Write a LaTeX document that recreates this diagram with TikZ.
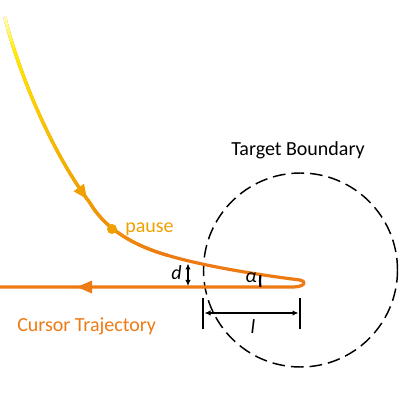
\documentclass[tikz,border=0pt]{standalone}
\usepackage{fontspec}
\setmainfont{Carlito}
\usetikzlibrary{decorations.markings,arrows.meta,calc}
\definecolor{corange}{HTML}{EE7A14}
\definecolor{camber}{HTML}{F0A000}
\definecolor{cyellow}{HTML}{FFEE00}
\definecolor{cpale}{HTML}{FFFFB0}
\tikzset{
  traj/.style={line width=2.4pt, line cap=round, line join=round},
  lbl/.style={inner sep=0pt, font=\fontsize{15}{18}\selectfont},
  bar/.style={line width=2.2pt},
  dimline/.style={line width=0.8pt, {Latex[length=4.5pt,width=4pt]}-{Latex[length=4.5pt,width=4pt]}},
  boundary/.style={line width=1.1pt, dash pattern=on 9.5pt off 4.5pt}
}
\begin{document}
\begin{tikzpicture}[x=0.75pt,y=-0.75pt]
\useasboundingbox (0,0) rectangle (414,413);

% target boundary
\coordinate (c) at (300.5,270);
\draw[boundary] (c) circle[radius=97];
\node[lbl, anchor=base] (tb) at (298,156) {Target Boundary};

% sample points along the upper trajectory
\path[decoration={markings, mark=between positions 0 and 1 step 0.01 with {\coordinate (q\pgfkeysvalueof{/pgf/decoration/mark info/sequence number});}}, decorate]
  (5,18) .. controls (18,70) and (50,150) .. (90,203) .. controls (100,220) and (120,240) .. (160,253) .. controls (200,266) and (260,275) .. (300,280);

% base orange curve
\draw[traj, corange] (5,18) .. controls (18,70) and (50,150) .. (90,203) .. controls (100,220) and (120,240) .. (160,253) .. controls (200,266) and (260,275) .. (300,280);

% colour gradient overlay
\foreach \i [evaluate=\i as \p using {int(100-100*(\i-1)/8)}, evaluate=\i as \j using {int(\i+1)}] in {1,...,8}
  \draw[traj, cpale!\p!cyellow] (q\i) -- (q\j);
\foreach \i [evaluate=\i as \p using {int(100*(45-\i)/37)}, evaluate=\i as \j using {int(\i+1)}] in {9,...,45}
  \draw[traj, cyellow!\p!camber] (q\i) -- (q\j);
\foreach \i [evaluate=\i as \p using {int(100*(70-\i)/25)}, evaluate=\i as \j using {int(\i+1)}] in {46,...,69}
  \draw[traj, camber!\p!corange] (q\i) -- (q\j);

% arrow on the upper trajectory
\path[decoration={markings, mark=at position 0.965 with {\fill[camber] (2,0) -- (-12,-6.5) -- (-12,6.5) -- cycle;}}, decorate]
  (5,18) .. controls (18,70) and (50,150) .. (90,203);

% tip loop and return line
\coordinate (tip) at (302,281);
\coordinate (end) at (0,287);
\draw[traj, corange] (300,280) .. controls (306,280.8) and (306.5,286.3) .. (294,287) -- (end);
\fill[corange] (77,287) -- (92,280.5) -- (92,293.5) -- cycle;

% pause
\fill[camber] (112,229) circle[radius=5];
\node[lbl, anchor=base west, text=camber] (pause) at (125,233) {pause};

% d
\draw[dimline] (188,263.5) -- (188,286);
\node[lbl, anchor=base] (d) at (176.5,280) {\itshape d};

% alpha
\draw[line width=1.6pt] ($(tip)+(172:42)$) arc[start angle=172, end angle=188, radius=42];
\node[lbl, anchor=base] (alpha) at (251,282) {\itshape α};

% l
\coordinate (l1) at (203,313);
\coordinate (l2) at (300,313);
\draw[bar] (203,298) -- (203,329);
\draw[bar] (300,298) -- (300,329);
\draw[dimline] ($(l1)+(1.5,0)$) -- ($(l2)+(-1.5,0)$);
\node[lbl, anchor=base] (l) at (253,333) {\itshape l};

% label
\node[lbl, anchor=base west, text=corange] (ct) at (17,331) {Cursor Trajectory};
\end{tikzpicture}
\end{document}
